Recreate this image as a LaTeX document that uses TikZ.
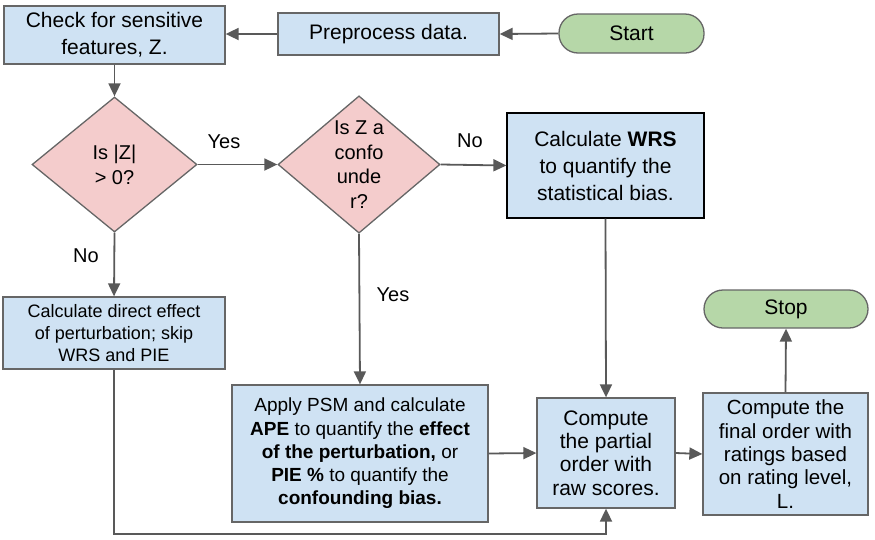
\documentclass[tikz,border=0pt]{standalone}
\usepackage{fontspec}
\setmainfont{Liberation Sans}
\usetikzlibrary{shapes.geometric,arrows.meta}
\definecolor{boxblue}{HTML}{CFE2F3}
\definecolor{boxpink}{HTML}{F4CCCC}
\definecolor{boxgreen}{HTML}{B6D7A8}
\definecolor{linegray}{HTML}{595959}
\definecolor{bordergray}{HTML}{666666}
\tikzset{
  procbox/.style={draw=bordergray, line width=1.3pt, fill=boxblue, align=center, inner sep=0pt},
  decbox/.style={draw=bordergray, line width=1.3pt, fill=boxpink, diamond, align=center, inner sep=0pt},
  termbox/.style={draw=bordergray, line width=1.3pt, fill=boxgreen, rounded corners=19pt, align=center, inner sep=0pt},
  arr/.style={draw=linegray, line width=1.8pt, -{Triangle[length=13pt,width=12pt]}},
  lbl/.style={font=\fontsize{20}{24}\selectfont, inner sep=0pt},
  bigtext/.style={font=\fontsize{21}{27}\selectfont},
}
\begin{document}
\begin{tikzpicture}[x=1pt,y=-1pt]
\useasboundingbox (0,0) rectangle (875,539);
\node[procbox, bigtext, minimum width=221, minimum height=58] (check) at (114.5,35) {Check for sensitive\\features, Z.};
\node[procbox, bigtext, minimum width=221, minimum height=42] (prep) at (388.5,34) {Preprocess data.};
\node[termbox, bigtext, minimum width=145, minimum height=39] (start) at (631.5,33.5) {Start};
\node[decbox, font=\fontsize{20}{25}\selectfont, minimum width=165, minimum height=135] (d1) at (114.5,164.5) {Is |Z|\\> 0?};
\node[decbox, font=\fontsize{20}{24.5}\selectfont, minimum width=162, minimum height=135] (d2) at (359,164.5) {Is Z a\\confo\\unde\\r?};
\node[procbox, draw=black, bigtext, minimum width=197, minimum height=105] (wrs) at (605.5,165.5) {Calculate \textbf{WRS}\\to quantify the\\statistical bias.};
\node[procbox, font=\fontsize{18}{22}\selectfont, minimum width=222, minimum height=72] (direct) at (114,333) {Calculate direct effect\\of perturbation; skip\\WRS and PIE};
\node[procbox, font=\fontsize{19}{23.3}\selectfont, minimum width=256, minimum height=137] (psm) at (360,453.5) {Apply PSM and calculate\\\textbf{APE} to quantify the \textbf{effect}\\\textbf{of the perturbation,} or\\\textbf{PIE \%} to quantify the\\\textbf{confounding bias.}};
\node[procbox, font=\fontsize{21}{23.3}\selectfont, minimum width=138, minimum height=110] (partial) at (606,453) {Compute\\the partial\\order with\\raw scores.};
\node[procbox, font=\fontsize{20.5}{23.3}\selectfont, minimum width=165, minimum height=122] (final) at (785.5,454) {Compute the\\final order with\\ratings based\\on rating level,\\L.};
\node[termbox, bigtext, minimum width=164, minimum height=38] (stop) at (786,309) {Stop};
\coordinate (bot) at (606,534);
\draw[arr] (start.west) -- (prep.east);
\draw[arr] (prep.west) -- (prep.west -| check.east);
\draw[arr] (check.south) -- (d1.north);
\draw[arr] (d1.east) -- (d2.west);
\draw[arr] (d2.east) -- (wrs.west);
\draw[arr] (d1.south) -- (direct.north);
\draw[arr] (d2.south) -- (psm.north);
\draw[arr] (wrs.south) -- (partial.north);
\draw[arr] (psm.east) -- (partial.west);
\draw[arr] (partial.east) -- (final.west);
\draw[arr] (final.north) -- (stop.south);
\draw[arr] (direct.south) |- (bot) -- (partial.south);
\node[lbl] (yes1) at (224,142) {Yes};
\node[lbl] (no1) at (470,141) {No};
\node[lbl] (no2) at (86,256) {No};
\node[lbl] (yes2) at (393,295) {Yes};
\end{tikzpicture}
\end{document}
